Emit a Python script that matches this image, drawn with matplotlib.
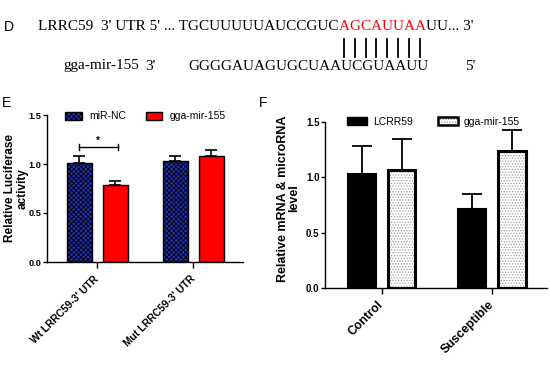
import numpy as np
import matplotlib
matplotlib.use("Agg")
import matplotlib.pyplot as plt
from matplotlib.patches import Patch
from matplotlib.lines import Line2D

# Panel D: sequence alignment
target_name = "LRRC59  3' UTR 5' ... "
target_head = "TGCUUUUUAUCCGUC"
target_seed = "AGCAUUAA"
target_tail = "UU... 3'"
mir_name = "gga-mir-155"
mir_seq = "GGGGAUAGUGCUAAUCGUAAUU"

# Panel E: luciferase assay
e_groups = ["Wt LRRC59-3' UTR", "Mut LRRC59-3' UTR"]
e_nc = [1.006, 1.033]
e_nc_err = [0.078, 0.044]
e_mir = [0.784, 1.084]
e_mir_err = [0.044, 0.055]

# Panel F: expression levels
f_groups = ["Control", "Susceptible"]
f_lrrc = [1.033, 0.714]
f_lrrc_err = [0.253, 0.135]
f_mir = [1.069, 1.235]
f_mir_err = [0.277, 0.190]

W, H = 550, 367
plt.rcParams["font.family"] = ["Liberation Sans", "DejaVu Sans"]
plt.rcParams["hatch.linewidth"] = 0.6
fig = plt.figure(figsize=(W / 100, H / 100), dpi=100)
renderer = fig.canvas.get_renderer()


def px(x, y):
    """ Pixel position (from top-left) to figure fraction. """
    return x / W, 1 - y / H


# Panel letters.
for lab, (x, y) in zip("DEF", [(9, 27), (6, 103), (263, 103)]):
    fig.text(*px(x, y), lab, fontsize=10, ha="center", va="center")

serif = dict(family="Liberation Serif", fontsize=11, va="center")

# First line, chained so the seed follows the head.
t = fig.text(*px(38, 27), target_name + target_head, **serif)
x_end = t.get_window_extent(renderer).x1
for ch in target_seed:
    t = fig.text(x_end / W, 1 - 27 / H, ch, color="red", **serif)
    bb = t.get_window_extent(renderer)
    xc = (bb.x0 + bb.x1) / 2 / W
    fig.add_artist(Line2D([xc, xc], [1 - 39 / H, 1 - 57 / H],
                          color="black", lw=1.3))
    x_end = bb.x1
fig.text(x_end / W, 1 - 27 / H, target_tail, **serif)

# Second line.
fig.text(*px(63, 66), mir_name, **serif)
fig.text(*px(145, 66), "3'", **serif)
fig.text(*px(188, 66), mir_seq, **serif)
fig.text(*px(465, 66), "5'", **serif)


def style_axis(ax, tick_size, xlabels, xsize):
    for s in ["top", "right"]:
        ax.spines[s].set_visible(False)
    for s in ["left", "bottom"]:
        ax.spines[s].set_linewidth(1.0)
    ax.set_ylim(0, 1.5)
    ax.set_yticks([0, 0.5, 1.0, 1.5])
    ax.set_yticklabels(["0.0", "0.5", "1.0", "1.5"], fontweight="bold",
                       fontsize=tick_size)
    ax.tick_params(axis="y", length=3, width=1.0, pad=1)
    ax.tick_params(axis="x", length=4, width=1.0, pad=7)
    ax.set_xticks(range(len(xlabels)))
    ax.set_xticklabels(xlabels, rotation=45, ha="right",
                       rotation_mode="anchor", fontweight="bold",
                       fontsize=xsize, va="center")


# Panel E.
axe = fig.add_axes([47 / W, 1 - 262 / H, 196 / W, 147 / H])
xe = np.arange(len(e_groups))
off, bw = 0.1875, 0.26
zeros = np.zeros(len(xe))
axe.bar(xe - off, e_nc, bw, color="#1f2fb0", edgecolor="black", lw=1.0,
        hatch="xxxxxxx", zorder=2)
axe.bar(xe + off, e_mir, bw, color="#ff0000", edgecolor="black", lw=1.0,
        zorder=2)
axe.errorbar(xe - off, e_nc, yerr=[zeros, e_nc_err], fmt="none",
             ecolor="black", elinewidth=1.2, capsize=4.5, capthick=1.2,
             zorder=1)
axe.errorbar(xe + off, e_mir, yerr=[zeros, e_mir_err], fmt="none",
             ecolor="black", elinewidth=1.2, capsize=4.5, capthick=1.2,
             zorder=1)
axe.set_xlim(-0.526, 1.516)
style_axis(axe, 6.6, e_groups, 7.4)
axe.set_ylabel("Relative Luciferase\nactivity", fontweight="bold",
               fontsize=8.5, linespacing=1.0)
axe.yaxis.set_label_coords(-0.095, 0.5)

# Significance bracket.
yb = 1.17
axe.plot([-off, off + 0.03], [yb, yb], color="black", lw=1.0)
for xb in [-off, off + 0.03]:
    axe.plot([xb, xb], [yb - 0.03, yb + 0.03], color="black", lw=1.0)
axe.text(0.0, yb + 0.015, "*", ha="center", va="bottom", fontsize=7,
         fontweight="bold")

h1 = Patch(facecolor="#1f2fb0", edgecolor="black", hatch="xxxxxxx", lw=1.0)
h2 = Patch(facecolor="#ff0000", edgecolor="black", lw=1.0)
axe.legend([h1, h2], ["miR-NC", "gga-mir-155"], ncol=2, frameon=False,
           loc="center left", bbox_to_anchor=(0.092, 0.99), fontsize=7.5,
           borderpad=0, borderaxespad=0, handlelength=1.6, handleheight=0.8,
           handletextpad=0.7, columnspacing=1.9)

# Panel F.
axf = fig.add_axes([325 / W, 1 - 288 / H, 222 / W, 166 / H])
xf = np.arange(len(f_groups))
off, bw = 0.18, 0.25
axf.bar(xf - off, f_lrrc, bw, color="black", edgecolor="black", lw=1.5,
        zorder=2)
axf.bar(xf + off, f_mir, bw, color="white", edgecolor="#a0a0a0", lw=0,
        hatch="......", zorder=2)
axf.bar(xf + off, f_mir, bw, color="none", edgecolor="black", lw=2.2,
        zorder=3)
axf.errorbar(xf - off, f_lrrc, yerr=[zeros, f_lrrc_err], fmt="none",
             ecolor="black", elinewidth=1.3, capsize=7.5, capthick=1.3,
             zorder=1)
axf.errorbar(xf + off, f_mir, yerr=[zeros, f_mir_err], fmt="none",
             ecolor="black", elinewidth=1.3, capsize=7.5, capthick=1.3,
             zorder=1)
axf.set_xlim(-0.515, 1.5)
style_axis(axf, 7.0, f_groups, 8.8)
axf.set_ylabel("Relative mRNA & microRNA\nlevel", fontweight="bold",
               fontsize=9, linespacing=1.0)
axf.yaxis.set_label_coords(-0.11, 0.54)

g1 = Patch(facecolor="black", edgecolor="black", lw=1.0)
g2 = (Patch(facecolor="white", edgecolor="#a0a0a0", lw=0, hatch="......"),
      Patch(facecolor="none", edgecolor="black", lw=1.8))
axf.legend([g1, g2], ["LCRR59", "gga-mir-155"], ncol=2, frameon=False,
           loc="center left", bbox_to_anchor=(0.099, 1.0), fontsize=7.5,
           borderpad=0, borderaxespad=0, handlelength=1.9, handleheight=0.8,
           handletextpad=0.6, columnspacing=2.4)

fig.savefig("out.png", dpi=100)
